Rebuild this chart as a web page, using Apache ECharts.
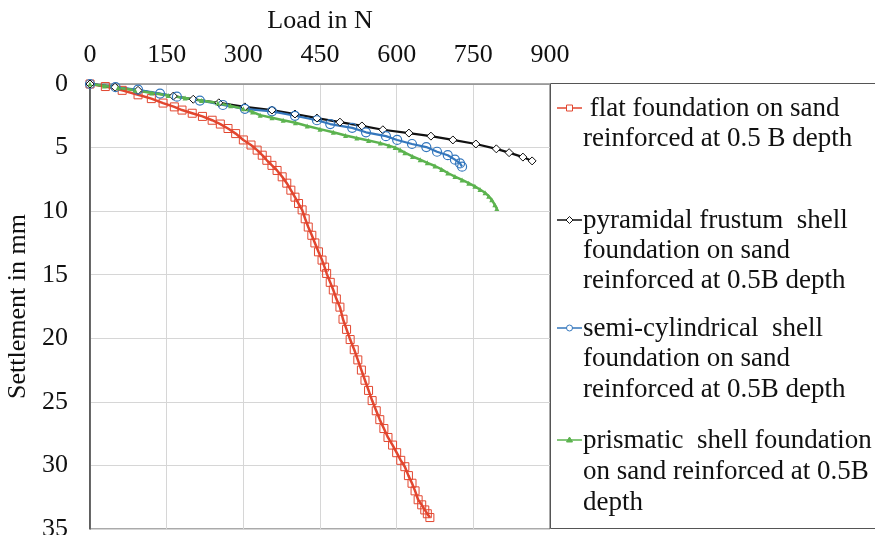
<!DOCTYPE html>
<html>
<head>
<meta charset="utf-8">
<script src="https://cdn.jsdelivr.net/npm/echarts@6/dist/echarts.min.js"></script>
<style>
  html, body { margin: 0; padding: 0; background: #fff; }
  #main { width: 875px; height: 535px; }
</style>
</head>
<body>
<div id="main"></div>
<script>
// axis ticks
var loadTicks = [0, 150, 300, 450, 600, 750, 900];
var settleTicks = [0, 5, 10, 15, 20, 25, 30, 35];

// flat foundation
var flatLoad = [0, 30, 63, 94, 120, 143, 165, 180, 200, 220, 239, 255, 270, 285, 300, 315, 327, 337, 346, 356, 366, 376, 385, 393, 401, 408, 415, 421, 427, 434, 440, 447, 454, 459, 463, 470, 476, 482, 489, 495, 502, 509, 517, 524, 531, 538, 545, 552, 560, 567, 575, 583, 592, 600, 608, 616, 623, 630, 636, 642, 649, 655, 660, 665];
var flatSettle = [0, 0.2, 0.5, 0.85, 1.15, 1.5, 1.8, 2.05, 2.3, 2.55, 2.85, 3.15, 3.5, 3.9, 4.4, 4.8, 5.2, 5.6, 6.0, 6.4, 6.8, 7.3, 7.8, 8.35, 8.9, 9.4, 9.9, 10.6, 11.25, 11.9, 12.5, 13.2, 13.85, 14.4, 14.9, 15.6, 16.2, 16.9, 17.55, 18.5, 19.3, 20.1, 20.9, 21.7, 22.5, 23.3, 24.1, 24.9, 25.7, 26.4, 27.1, 27.8, 28.4, 29.0, 29.6, 30.1, 30.8, 31.4, 32.0, 32.7, 33.1, 33.5, 33.8, 34.1];

// pyramidal frustum shell
var pyrLoad = [0, 49, 94, 163, 202, 252, 303, 356, 401, 444, 489, 532, 573, 624, 667, 710, 755, 795, 820, 847, 865];
var pyrSettle = [0, 0.25, 0.5, 0.95, 1.2, 1.48, 1.8, 2.05, 2.36, 2.68, 3.0, 3.3, 3.6, 3.86, 4.1, 4.4, 4.72, 5.1, 5.4, 5.75, 6.05];

// semi-cylindrical shell
var semiLoad = [0, 50, 94, 137, 170, 215, 260, 303, 356, 401, 444, 470, 513, 540, 579, 601, 630, 658, 679, 700, 714, 724, 728];
var semiSettle = [0, 0.25, 0.45, 0.75, 1.0, 1.3, 1.65, 1.95, 2.15, 2.5, 2.85, 3.15, 3.45, 3.8, 4.1, 4.4, 4.72, 4.96, 5.33, 5.6, 5.95, 6.25, 6.5];

// prismatic shell
var prisLoad = [0, 28, 55, 88, 121, 153, 186, 218, 250, 275, 300, 318, 333, 356, 378, 402, 425, 450, 476, 500, 522, 545, 568, 585, 597, 607, 616, 631, 646, 660, 675, 688, 700, 714, 728, 741, 753, 763, 773, 780, 786, 792, 796];
var prisSettle = [0, 0.15, 0.3, 0.5, 0.7, 0.9, 1.1, 1.3, 1.5, 1.72, 1.95, 2.2, 2.45, 2.65, 2.85, 3.05, 3.3, 3.55, 3.8, 4.05, 4.25, 4.45, 4.65, 4.85, 5.0, 5.2, 5.4, 5.7, 5.95, 6.2, 6.45, 6.72, 7.0, 7.28, 7.55, 7.8, 8.05, 8.3, 8.55, 8.82, 9.1, 9.5, 9.8];

var seriesNames = [
    'flat foundation on sand reinforced at 0.5 B depth',
    'pyramidal frustum shell foundation on sand reinforced at 0.5B depth',
    'semi-cylindrical shell foundation on sand reinforced at 0.5B depth',
    'prismatic shell foundation on sand reinforced at 0.5B depth'
];
// legend text as shown, one array per entry
var legendLines = [
    [' flat foundation on sand', 'reinforced at 0.5 B depth'],
    ['pyramidal frustum  shell', 'foundation on sand', 'reinforced at 0.5B depth'],
    ['semi-cylindrical  shell', 'foundation on sand', 'reinforced at 0.5B depth'],
    ['prismatic  shell foundation', 'on sand reinforced at 0.5B', 'depth']
];

var RED = '#e2462f', BLACK = '#111111', BLUE = '#3477bd', GREEN = '#5cb34f';
var FONT = '"Liberation Serif", "Times New Roman", serif';

function zip(a, b) {
    var out = [];
    for (var i = 0; i < a.length; i++) out.push([a[i], b[i]]);
    return out;
}

var chart = echarts.init(document.getElementById('main'), null, {renderer: 'canvas'});

// legend drawn by hand so the symbol sits on the first text line
var legendColors = [RED, BLACK, BLUE, GREEN];
var legendFirstY = [108, 220, 328, 440];
var legendLineY = [
    [109, 139],
    [221, 251, 281],
    [329, 359, 390],
    [441, 472, 503]
];
var graphics = [{
    type: 'rect',
    shape: {x: 550.5, y: 83.5, width: 340, height: 445},
    style: {fill: 'none', stroke: '#555', lineWidth: 1},
    z: 10
}];
for (var k = 0; k < 4; k++) {
    var cy = legendFirstY[k];
    graphics.push({
        type: 'line',
        shape: {x1: 557, y1: cy, x2: 582, y2: cy},
        style: {stroke: legendColors[k], lineWidth: 1.5},
        z: 10
    });
    var sym = {type: 'circle', shape: {cx: 569.5, cy: cy, r: 3}};
    if (k === 0) sym = {type: 'rect', shape: {x: 566.5, y: cy - 3, width: 6, height: 6}};
    if (k === 1) sym = {type: 'polygon', shape: {points: [[569.5, cy - 3.5], [573, cy], [569.5, cy + 3.5], [566, cy]]}};
    if (k === 3) sym = {type: 'polygon', shape: {points: [[569.5, cy - 3], [572.5, cy + 2], [566.5, cy + 2]]}};
    sym.style = {fill: k === 3 ? GREEN : '#fff', stroke: legendColors[k], lineWidth: 1};
    sym.z = 11;
    graphics.push(sym);
    for (var j = 0; j < legendLines[k].length; j++) {
        graphics.push({
            type: 'text',
            x: 583,
            y: legendLineY[k][j],
            style: {
                text: legendLines[k][j],
                font: '27px ' + FONT,
                fill: '#111',
                verticalAlign: 'middle',
                align: 'left'
            },
            z: 10
        });
    }
}

var option = {
    backgroundColor: '#fff',
    animation: false,
    textStyle: {fontFamily: FONT},
    grid: {
        left: 90, right: 325, top: 84, bottom: 6,
        outerBoundsMode: 'none',
        containLabel: false,
        show: true, borderColor: '#555', borderWidth: 1
    },
    xAxis: {
        type: 'value',
        position: 'top',
        min: loadTicks[0],
        max: loadTicks[loadTicks.length - 1],
        interval: 150,
        name: 'Load in N',
        nameLocation: 'middle',
        nameGap: 50,
        nameTextStyle: {fontFamily: FONT, fontSize: 26, color: '#111'},
        axisLine: {show: true, lineStyle: {color: '#999', width: 1}},
        axisTick: {show: false},
        axisLabel: {fontFamily: FONT, fontSize: 26, color: '#111', margin: 16},
        splitLine: {show: true, lineStyle: {color: '#d6d6d6', width: 1}}
    },
    yAxis: {
        type: 'value',
        inverse: true,
        min: settleTicks[0],
        max: settleTicks[settleTicks.length - 1],
        interval: 5,
        name: 'Settlement in mm',
        nameLocation: 'middle',
        nameGap: 52,
        nameTextStyle: {fontFamily: FONT, fontSize: 26, color: '#111'},
        axisLine: {show: true, lineStyle: {color: '#444', width: 1.5}},
        axisTick: {show: false},
        axisLabel: {fontFamily: FONT, fontSize: 26, color: '#111', margin: 22},
        splitLine: {show: true, lineStyle: {color: '#d6d6d6', width: 1}}
    },
    graphic: graphics,
    series: [
        {
            name: seriesNames[0],
            type: 'line',
            data: zip(flatLoad, flatSettle),
            symbol: 'rect',
            symbolSize: 8,
            lineStyle: {color: RED, width: 2.5},
            itemStyle: {color: 'transparent', borderColor: RED, borderWidth: 1}
        },
        {
            name: seriesNames[1],
            type: 'line',
            data: zip(pyrLoad, pyrSettle),
            symbol: 'diamond',
            symbolSize: 8,
            lineStyle: {color: BLACK, width: 2.2},
            itemStyle: {color: '#fff', borderColor: BLACK, borderWidth: 1}
        },
        {
            name: seriesNames[2],
            type: 'line',
            data: zip(semiLoad, semiSettle),
            symbol: 'circle',
            symbolSize: 9,
            lineStyle: {color: BLUE, width: 2.2},
            itemStyle: {color: 'transparent', borderColor: BLUE, borderWidth: 1.2}
        },
        {
            name: seriesNames[3],
            type: 'line',
            data: zip(prisLoad, prisSettle),
            symbol: 'triangle',
            symbolSize: 5,
            lineStyle: {color: GREEN, width: 2.5},
            itemStyle: {color: GREEN, borderColor: GREEN, borderWidth: 0}
        }
    ]
};
chart.setOption(option);
</script>
</body>
</html>
